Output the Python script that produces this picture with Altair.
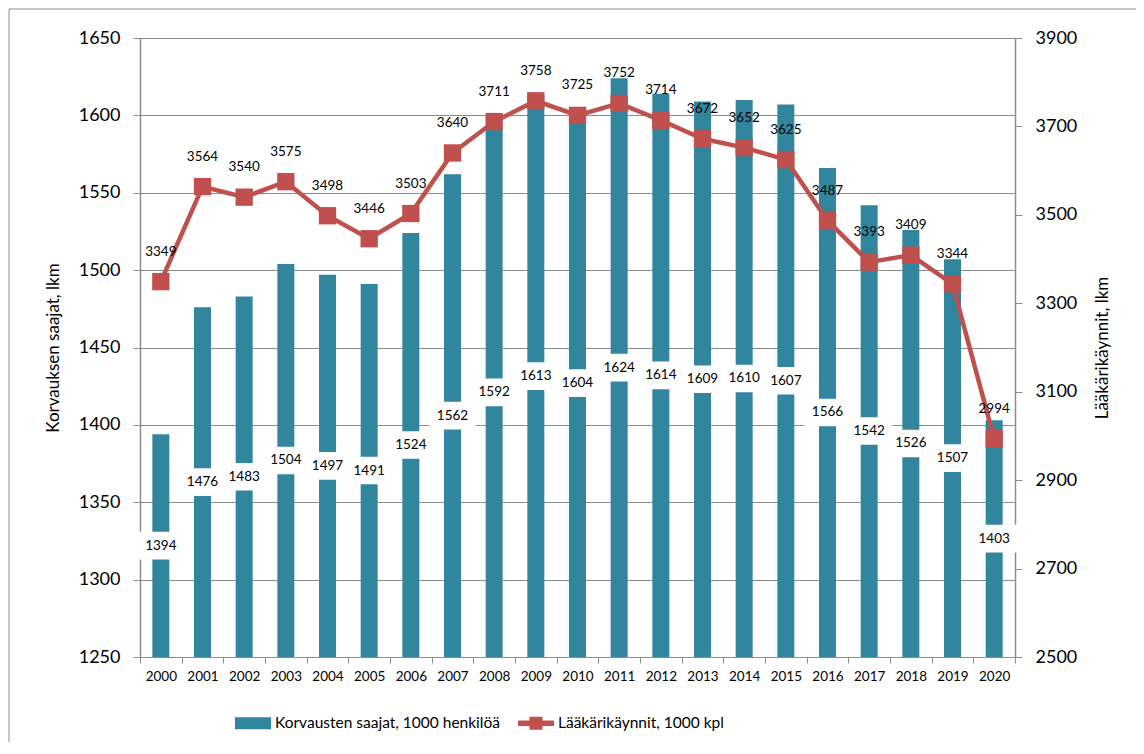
import altair as alt
import pandas as pd

# ---------------- data ----------------
years = [str(y) for y in range(2000, 2021)]
recipients = [1394, 1476, 1483, 1504, 1497, 1491, 1524, 1562, 1592, 1613, 1604,
              1624, 1614, 1609, 1610, 1607, 1566, 1542, 1526, 1507, 1403]
visits = [3349, 3564, 3540, 3575, 3498, 3446, 3503, 3640, 3711, 3758, 3725,
          3752, 3714, 3672, 3652, 3625, 3487, 3393, 3409, 3344, 2994]
series_names = ["Korvausten saajat, 1000 henkilöä", "Lääkärikäynnit, 1000 kpl"]
left_ticks = list(range(1250, 1651, 50))
right_ticks = list(range(2500, 3901, 200))

# ---------------- style ----------------
BAR_COLOR = "#31859C"
LINE_COLOR = "#C0504D"
GRID = "#8C8C8C"
FONT = "Lato"
LEFT_DOMAIN = [1250, 1650]
RIGHT_DOMAIN = [2500, 3900]
BAR_PATH = "M-1,-0.33L1,-0.33L1,0.33L-1,0.33Z"
LINE_PATH = ("M-1,-0.15L-0.36,-0.15L-0.36,-0.36L0.36,-0.36L0.36,-0.15L1,-0.15L1,0.15"
             "L0.36,0.15L0.36,0.36L-0.36,0.36L-0.36,0.15L-1,0.15Z")
BOX_PATH = "M-1,-0.6L1,-0.6L1,0.6L-1,0.6Z"

df = pd.DataFrame({"year": years, "recipients": recipients, "visits": visits})

x_enc = alt.X(
    "year:N",
    sort=years,
    scale=alt.Scale(paddingInner=0, paddingOuter=0),
    axis=alt.Axis(title=None, labelAngle=0, tickBand="extent", domainColor=GRID,
                  tickColor=GRID, tickSize=6, labelFontSize=13.5, labelColor="#000000",
                  labelPadding=6, grid=False, labelFont=FONT),
)

left_axis = alt.Axis(title="Korvauksen saajat, lkm", values=left_ticks, grid=True,
                     gridColor=GRID, gridWidth=1.2, domainColor=GRID, domainWidth=1.5,
                     tickColor=GRID, tickSize=7, labelFontSize=18, labelPadding=13,
                     labelColor="#000000", titleFontSize=17, titleFontWeight="normal",
                     titleColor="#000000", titlePadding=16, format="d", labelFont=FONT,
                     titleFont=FONT)
right_axis = alt.Axis(title="Lääkärikäynnit, lkm", orient="right", values=right_ticks,
                      grid=False, domainColor=GRID, domainWidth=1.5, tickColor=GRID,
                      tickSize=7, labelFontSize=18, labelPadding=13, labelColor="#000000",
                      titleFontSize=17, titleFontWeight="normal", titleColor="#000000",
                      titlePadding=35, titleAngle=-90, format="d", labelFont=FONT,
                      titleFont=FONT)


def ly(field):
    return alt.Y(field, scale=alt.Scale(domain=LEFT_DOMAIN, nice=False, zero=False),
                 axis=left_axis)


def ry(field):
    return alt.Y(field, scale=alt.Scale(domain=RIGHT_DOMAIN, nice=False, zero=False),
                 axis=right_axis)


base = alt.Chart(df).encode(x=x_enc)

bars = base.mark_bar(color=BAR_COLOR, size=17).encode(
    y=ly("recipients:Q"), y2=alt.datum(LEFT_DOMAIN[0])
)

mid = base.transform_calculate(mid=f"(datum.recipients + {LEFT_DOMAIN[0]}) / 2")
boxes = mid.mark_point(shape=BOX_PATH, size=2116, filled=True, color="#FFFFFF",
                       opacity=1, strokeWidth=0).encode(y=ly("mid:Q"))
bar_text = mid.mark_text(fontSize=13.5, font=FONT, color="#000000",
                         baseline="middle").encode(y=ly("mid:Q"), text="recipients:Q")

legend_df = pd.DataFrame({"series": series_names})
leg_props = dict(title=None, orient="none", legendX=95, legendY=667, direction="horizontal",
                 symbolSize=1296, symbolOpacity=1, symbolStrokeWidth=0, labelFontSize=15.5,
                 labelFont=FONT, labelColor="#000000", labelOffset=4, columnPadding=18,
                 labelLimit=400)
legend_layer = alt.Chart(legend_df).mark_point(filled=True, opacity=0).encode(
    color=alt.Color("series:N", scale=alt.Scale(domain=series_names,
                                                range=[BAR_COLOR, LINE_COLOR]),
                    legend=alt.Legend(**leg_props)),
    shape=alt.Shape("series:N", scale=alt.Scale(domain=series_names,
                                                range=[BAR_PATH, LINE_PATH]),
                    legend=alt.Legend(**leg_props)),
)

frame_df = pd.DataFrame({"k": [0]})
frame_top = alt.Chart(frame_df).mark_rule(color="#8C8C8C", strokeWidth=1).encode(
    x=alt.value(-131), x2=alt.value(1100), y=alt.value(-29))
frame_left = alt.Chart(frame_df).mark_rule(color="#8C8C8C", strokeWidth=1).encode(
    x=alt.value(-131), y=alt.value(-29), y2=alt.value(800))

line = base.mark_line(color=LINE_COLOR, strokeWidth=4.5).encode(y=ry("visits:Q"))
points = base.mark_point(shape="square", filled=True, size=300, color=LINE_COLOR,
                         opacity=1).encode(y=ry("visits:Q"))
line_text = base.mark_text(fontSize=13.5, font=FONT, color="#000000", dy=-30,
                           baseline="middle").encode(y=ry("visits:Q"), text="visits:Q")

left = alt.layer(frame_top, frame_left, bars, boxes, bar_text, legend_layer)
right = alt.layer(line, points, line_text)

chart = alt.layer(left, right).resolve_scale(y="independent").properties(
    width=875, height=619,
    autosize=alt.AutoSizeParams(type="none"),
    padding={"left": 132, "top": 30, "right": 121, "bottom": 85},
).configure(font=FONT).configure_view(stroke=None)

chart.save("out.html", embed_options={"renderer": "svg", "actions": False})
